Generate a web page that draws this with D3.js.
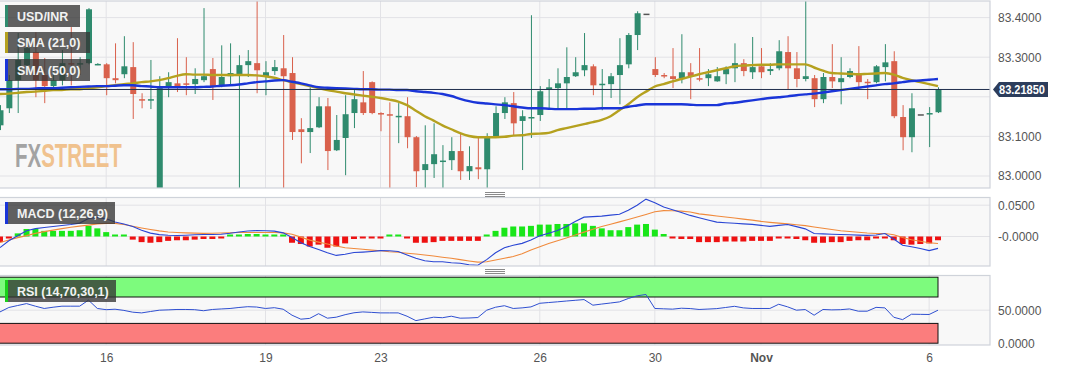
<!DOCTYPE html>
<html>
<head>
<meta charset="utf-8">
<script src="https://cdn.jsdelivr.net/npm/d3@7"></script>
<style>
  body { margin: 0; background: #fff; }
  svg { display: block; font-family: "Liberation Sans", Arial, sans-serif; }
</style>
</head>
<body>
<div id="d3-container"></div>
<script>
// 4h candles, USD/INR
const open = [
83.128,83.171,83.242,83.280,83.313,83.255,83.227,83.242,83.285,83.282,
83.285,83.282,83.282,83.247,83.257,83.275,83.194,83.192,82.952,83.227,
83.234,83.234,83.232,83.242,83.270,83.227,83.252,83.257,83.280,83.285,
83.250,83.265,83.272,83.260,83.118,83.111,83.123,83.176,83.065,83.096,
83.159,83.186,83.237,83.159,83.156,83.150,83.151,83.098,83.015,83.030,
83.036,83.040,83.063,83.012,83.022,83.017,83.098,83.159,83.184,83.139,
83.146,83.154,83.219,83.222,83.234,83.252,83.267,83.277,83.231,83.232,
83.255,83.282,83.356,83.410,83.270,83.255,83.252,83.247,83.262,83.247,
83.247,83.239,83.257,83.272,83.285,83.262,83.277,83.265,83.272,83.313,
83.272,83.245,83.247,83.194,83.250,83.237,83.250,83.260,83.238,83.237,
83.275,83.290,83.149,83.098,83.156,83.157,83.161];
const high = [
83.179,83.255,83.361,83.351,83.363,83.298,83.272,83.318,83.376,83.300,
83.424,83.285,83.285,83.335,83.353,83.338,83.209,83.293,83.252,83.262,
83.348,83.300,83.272,83.424,83.298,83.330,83.335,83.305,83.318,83.457,
83.290,83.293,83.356,83.300,83.146,83.224,83.199,83.197,83.154,83.204,
83.217,83.265,83.239,83.161,83.186,83.184,83.199,83.101,83.128,83.133,
83.078,83.098,83.108,83.075,83.098,83.108,83.176,83.199,83.212,83.166,
83.406,83.227,83.245,83.272,83.325,83.300,83.361,83.282,83.270,83.260,
83.348,83.361,83.416,83.410,83.300,83.260,83.323,83.358,83.285,83.323,
83.270,83.275,83.277,83.335,83.295,83.351,83.323,83.285,83.343,83.353,
83.313,83.452,83.255,83.260,83.333,83.300,83.272,83.328,83.245,83.280,
83.333,83.315,83.179,83.209,83.156,83.174,83.224];
const low = [
83.116,83.159,83.159,83.267,83.199,83.184,83.217,83.229,83.229,83.255,
83.282,83.280,83.204,83.234,83.247,83.144,83.171,83.169,82.947,83.199,
83.212,83.204,83.207,83.237,83.192,83.224,83.229,82.960,83.250,83.209,
83.204,83.255,82.960,83.091,83.032,83.058,83.121,83.015,83.063,83.002,
83.121,83.154,83.156,83.113,82.960,83.083,83.070,82.972,82.952,82.995,
82.960,83.015,82.990,82.990,82.992,82.952,83.096,83.144,83.103,83.015,
83.096,83.139,83.171,83.171,83.169,83.250,83.252,83.204,83.166,83.197,
83.181,83.272,83.318,83.410,83.250,83.247,83.222,83.234,83.194,83.239,
83.227,83.238,83.232,83.237,83.252,83.245,83.247,83.255,83.267,83.219,
83.224,83.239,83.174,83.184,83.222,83.181,83.247,83.222,83.194,83.234,
83.239,83.146,83.065,83.060,83.156,83.073,83.159];
const close = [
83.166,83.242,83.293,83.323,83.242,83.227,83.242,83.285,83.282,83.285,
83.421,83.283,83.247,83.242,83.277,83.207,83.192,83.194,83.222,83.237,
83.227,83.232,83.245,83.252,83.227,83.250,83.260,83.280,83.290,83.267,
83.262,83.275,83.252,83.111,83.111,83.121,83.176,83.063,83.091,83.156,
83.194,83.159,83.159,83.156,83.154,83.152,83.098,83.012,83.030,83.055,
83.039,83.063,83.012,83.025,83.017,83.096,83.159,83.186,83.133,83.151,
83.149,83.214,83.224,83.234,83.250,83.262,83.280,83.229,83.233,83.252,
83.280,83.356,83.411,83.410,83.255,83.253,83.245,83.262,83.252,83.245,
83.257,83.252,83.270,83.285,83.265,83.275,83.262,83.270,83.315,83.272,
83.245,83.252,83.194,83.250,83.239,83.247,83.265,83.237,83.236,83.277,
83.287,83.151,83.098,83.171,83.156,83.159,83.2185];

const sma21 = [
83.207,83.208,83.210,83.212,83.213,83.215,83.217,83.217,83.219,83.219,
83.222,83.224,83.227,83.229,83.232,83.234,83.237,83.239,83.242,83.247,
83.253,83.257,83.256,83.256,83.255,83.255,83.255,83.255,83.255,83.254,
83.252,83.248,83.242,83.237,83.232,83.227,83.222,83.217,83.213,83.209,
83.206,83.203,83.200,83.197,83.193,83.188,83.179,83.165,83.151,83.140,
83.128,83.118,83.108,83.101,83.098,83.098,83.098,83.099,83.102,83.103,
83.106,83.107,83.109,83.116,83.121,83.126,83.131,83.136,83.142,83.151,
83.166,83.181,83.199,83.213,83.226,83.232,83.239,83.245,83.251,83.257,
83.262,83.267,83.272,83.277,83.279,83.280,83.281,83.281,83.282,83.282,
83.282,83.282,83.274,83.266,83.260,83.259,83.258,83.257,83.258,83.259,
83.260,83.256,83.248,83.242,83.237,83.232,83.227];
const sma50 = [
83.219,83.219,83.220,83.220,83.221,83.222,83.222,83.223,83.224,83.225,
83.226,83.227,83.227,83.228,83.229,83.229,83.227,83.226,83.224,83.224,
83.224,83.224,83.224,83.225,83.226,83.228,83.229,83.231,83.234,83.237,
83.239,83.241,83.242,83.238,83.234,83.229,83.224,83.223,83.222,83.221,
83.220,83.219,83.219,83.218,83.218,83.217,83.217,83.214,83.212,83.210,
83.207,83.202,83.195,83.189,83.185,83.183,83.181,83.179,83.176,83.173,
83.171,83.171,83.170,83.169,83.169,83.169,83.170,83.170,83.171,83.171,
83.171,83.175,83.178,83.181,83.181,83.181,83.181,83.181,83.180,83.179,
83.179,83.179,83.183,83.185,83.188,83.191,83.194,83.197,83.199,83.201,
83.204,83.206,83.208,83.211,83.214,83.217,83.220,83.223,83.226,83.229,
83.232,83.234,83.237,83.240,83.241,83.243,83.245];

// MACD (12,26,9)
const macd = [
-0.0177,-0.0067,0.0013,0.0092,0.0126,0.0143,0.0159,0.0175,0.0191,0.0214,
0.0288,0.0306,0.0282,0.0233,0.0201,0.0160,0.0101,0.0054,0.0030,0.0019,
0.0016,0.0021,0.0028,0.0032,0.0032,0.0036,0.0052,0.0072,0.0088,0.0095,
0.0091,0.0086,0.0058,-0.0017,-0.0101,-0.0160,-0.0208,-0.0259,-0.0302,-0.0283,
-0.0256,-0.0249,-0.0239,-0.0226,-0.0227,-0.0240,-0.0295,-0.0349,-0.0388,-0.0403,
-0.0403,-0.0419,-0.0427,-0.0451,-0.0459,-0.0370,-0.0260,-0.0180,-0.0140,-0.0110,
-0.0055,0.0010,0.0052,0.0097,0.0160,0.0240,0.0309,0.0318,0.0326,0.0342,
0.0355,0.0420,0.0500,0.0597,0.0540,0.0470,0.0428,0.0383,0.0337,0.0300,
0.0264,0.0230,0.0219,0.0211,0.0202,0.0194,0.0178,0.0161,0.0178,0.0191,
0.0158,0.0122,0.0048,0.0042,0.0036,0.0031,0.0027,0.0022,0.0018,0.0025,
0.0047,-0.0040,-0.0140,-0.0165,-0.0191,-0.0226,-0.0190];
const signal = [
-0.0097,-0.0057,-0.0018,0.0014,0.0050,0.0078,0.0102,0.0126,0.0148,0.0165,
0.0182,0.0201,0.0209,0.0210,0.0192,0.0163,0.0137,0.0113,0.0090,0.0071,
0.0063,0.0058,0.0054,0.0050,0.0051,0.0056,0.0059,0.0063,0.0065,0.0065,
0.0065,0.0063,0.0058,0.0037,-0.0010,-0.0058,-0.0090,-0.0121,-0.0153,-0.0180,
-0.0192,-0.0204,-0.0217,-0.0228,-0.0243,-0.0252,-0.0267,-0.0280,-0.0296,-0.0311,
-0.0331,-0.0348,-0.0370,-0.0391,-0.0410,-0.0404,-0.0375,-0.0348,-0.0320,-0.0275,
-0.0215,-0.0165,-0.0113,-0.0068,-0.0023,0.0023,0.0070,0.0117,0.0160,0.0197,
0.0234,0.0271,0.0311,0.0352,0.0395,0.0414,0.0411,0.0406,0.0391,0.0361,
0.0345,0.0328,0.0311,0.0295,0.0278,0.0262,0.0242,0.0226,0.0213,0.0201,
0.0188,0.0174,0.0153,0.0132,0.0111,0.0093,0.0081,0.0068,0.0056,0.0048,
0.0048,0.0028,-0.0016,-0.0053,-0.0077,-0.0101,-0.0113];
const hist = [
-0.009,-0.001,0.005,0.012,0.012,0.009,0.009,0.009,0.009,0.010,
0.017,0.013,0.007,0.002,0.001,-0.005,-0.009,-0.010,-0.009,-0.007,
-0.006,-0.006,-0.005,-0.004,-0.004,-0.002,0.000,0.002,0.004,0.004,
0.002,0.002,0.001,-0.010,-0.012,-0.016,-0.013,-0.018,-0.016,-0.011,
-0.004,-0.003,-0.002,-0.001,0.000,0.001,-0.002,-0.010,-0.010,-0.009,
-0.007,-0.007,-0.007,-0.007,-0.007,0.000,0.009,0.014,0.016,0.016,
0.017,0.019,0.019,0.020,0.020,0.021,0.021,0.017,0.013,0.010,
0.010,0.015,0.019,0.020,0.011,0.004,-0.001,-0.004,-0.004,-0.009,
-0.009,-0.009,-0.008,-0.008,-0.008,-0.007,-0.007,-0.007,-0.003,-0.003,
-0.004,-0.006,-0.010,-0.010,-0.009,-0.009,-0.007,-0.006,-0.006,-0.002,
-0.001,-0.006,-0.012,-0.013,-0.012,-0.011,-0.006];

// RSI (14,70,30,1)
const rsi = [
47.4,54.1,57.1,60.0,56.1,52.6,54.5,56.1,56.1,56.1,
65.2,52.6,50.8,51.5,49.7,47.0,45.9,48.0,50.0,50.5,
51.1,51.1,50.8,49.2,51.1,51.9,52.6,54.1,55.3,54.8,
52.6,53.8,51.5,42.4,36.4,37.6,44.7,37.9,39.4,43.2,
46.1,47.4,46.7,45.9,45.9,45.9,40.9,34.2,36.8,39.4,
38.6,40.9,37.9,38.2,38.9,50.0,54.5,56.8,52.6,53.5,
55.0,60.5,61.6,62.7,63.9,65.0,66.1,57.6,59.3,60.9,
62.6,67.7,71.8,73.8,52.6,52.1,51.6,53.0,52.5,51.1,
51.7,52.4,54.1,55.9,53.5,52.6,52.6,52.6,59.0,55.1,
50.0,51.0,42.4,51.1,50.5,50.8,51.9,48.5,48.5,54.3,
53.5,39.3,35.7,43.9,43.7,43.5,50.0];

// x axis: candle index of each day label
const tickPos = [12, 30, 43, 61, 74, 86, 105];
const tickLabels = ["16", "19", "23", "26", "30", "Nov", "6"];
const priceTicks = [83.0, 83.1, 83.2, 83.3, 83.4];
const macdTicks = [0, 0.05];
const rsiTicks = [0, 50];
const lastPrice = 83.2185;

const W = 1067, H = 370;
const mainP = {id: 'clipMain', top: 1, bottom: 188, right: 990};
const macdP = {id: 'clipMacd', top: 197.5, bottom: 266, right: 990};
const rsiP = {id: 'clipRsi', top: 275.5, bottom: 345, right: 990};

const green = "#2f8b6e", red = "#d9614c";

let svg = d3.select('#d3-container')
  .append('svg')
  .attr('width', W)
  .attr('height', H);

const n = close.length - 1;
const x = d3.scaleLinear().domain([0, n]).range([0, 938]);
const y = d3.scaleLinear().domain([83.0, 83.4]).range([176, 17.6]);
const yMacd = d3.scaleLinear().domain([0, 0.05]).range([236.5, 205.2]);
const yRsi = d3.scaleLinear().domain([0, 100]).range([343.2, 277.2]);

const defs = svg.append('defs');
[mainP, macdP, rsiP].forEach(p => {
  defs.append('clipPath').attr('id', p.id)
    .append('rect').attr('x', 0).attr('y', p.top).attr('width', p.right).attr('height', p.bottom - p.top);
});

// panel background + grid
function panel(p, yScale, yTicks) {
  svg.append('rect')
    .attr('x', -1).attr('y', p.top)
    .attr('width', p.right + 1).attr('height', p.bottom - p.top)
    .attr('fill', '#f8f8f8');
  let g = svg.append('g').attr('clip-path', 'url(#' + p.id + ')');
  g.selectAll('.vg').data(tickPos).join('line')
    .attr('x1', d => x(d)).attr('x2', d => x(d))
    .attr('y1', p.top).attr('y2', p.bottom)
    .attr('stroke', '#e2e2e6').attr('stroke-width', 1);
  g.selectAll('.hg').data(yTicks).join('line')
    .attr('x1', 0).attr('x2', p.right)
    .attr('y1', d => yScale(d)).attr('y2', d => yScale(d))
    .attr('stroke', '#e2e2e6').attr('stroke-width', 1);
  return g;
}

const gMain = panel(mainP, y, priceTicks);

// watermark, squeezed horizontally
const wm = svg.append('g').attr('transform', 'translate(15,167) scale(0.62,1)')
  .append('text')
  .attr('font-size', 33).attr('font-weight', 'bold');
wm.append('tspan').attr('fill', '#a3a3a3').text('FX');
wm.append('tspan').attr('fill', '#f0c28e').text('STREET');

// candles
const idx = d3.range(close.length);
const colorOf = i => close[i] > open[i] ? green : (close[i] < open[i] ? red : '#555');

gMain.selectAll('.wick').data(idx).join('line')
  .attr('x1', i => x(i) + 0.5).attr('x2', i => x(i) + 0.5)
  .attr('y1', i => y(high[i])).attr('y2', i => y(low[i]))
  .attr('stroke', colorOf).attr('stroke-width', 1);

gMain.selectAll('.body').data(idx).join('rect')
  .attr('x', i => x(i) - 2.5)
  .attr('width', 6)
  .attr('y', i => y(Math.max(open[i], close[i])))
  .attr('height', i => Math.max(1.5, Math.abs(y(open[i]) - y(close[i]))))
  .attr('fill', colorOf);

// moving averages
const line = arr => d3.line().x((d, i) => x(i)).y(d => y(d)).curve(d3.curveMonotoneX)(arr);
gMain.append('path').attr('d', line(sma21))
  .attr('fill', 'none').attr('stroke', '#b5a11f').attr('stroke-width', 2.4);
gMain.append('path').attr('d', line(sma50))
  .attr('fill', 'none').attr('stroke', '#1a35d8').attr('stroke-width', 2.4);

// last price line
gMain.append('line')
  .attr('x1', 0).attr('x2', mainP.right)
  .attr('y1', y(lastPrice)).attr('y2', y(lastPrice))
  .attr('stroke', '#1f2e4d').attr('stroke-width', 1);

// MACD panel
const gMacd = panel(macdP, yMacd, macdTicks);
gMacd.selectAll('.hbar').data(idx).join('rect')
  .attr('x', i => x(i) - 3)
  .attr('width', 6)
  .attr('y', i => hist[i] >= 0 ? Math.min(yMacd(hist[i]), yMacd(0) - 2) : yMacd(0))
  .attr('height', i => Math.max(2, Math.abs(yMacd(hist[i]) - yMacd(0))))
  .attr('fill', i => hist[i] >= 0 ? '#19e619' : '#ee1111');

const lineM = arr => d3.line().x((d, i) => x(i)).y(d => yMacd(d))(arr);
gMacd.append('path').attr('d', lineM(signal))
  .attr('fill', 'none').attr('stroke', '#f08a3c').attr('stroke-width', 1.1);
gMacd.append('path').attr('d', lineM(macd))
  .attr('fill', 'none').attr('stroke', '#2a46d4').attr('stroke-width', 1.1);

// RSI panel
const gRsi = panel(rsiP, yRsi, [50]);
gRsi.append('rect')
  .attr('x', -1).attr('y', yRsi(100))
  .attr('width', x(n) + 1).attr('height', yRsi(70) - yRsi(100))
  .attr('fill', '#7dfb7d').attr('stroke', '#111').attr('stroke-width', 1);
gRsi.append('rect')
  .attr('x', -1).attr('y', yRsi(30))
  .attr('width', x(n) + 1).attr('height', yRsi(0) - yRsi(30))
  .attr('fill', '#fb7d7d').attr('stroke', '#111').attr('stroke-width', 1);
gRsi.append('path')
  .attr('d', d3.line().x((d, i) => x(i)).y(d => yRsi(d))(rsi))
  .attr('fill', 'none').attr('stroke', '#2f4fd0').attr('stroke-width', 1);

// panel borders
[mainP, macdP, rsiP].forEach(p => {
  svg.append('rect')
    .attr('x', -1).attr('y', p.top)
    .attr('width', p.right + 1).attr('height', p.bottom - p.top)
    .attr('fill', 'none').attr('stroke', '#cfd3da').attr('stroke-width', 1.2);
});

// right axes
function rightAxis(scale, ticks, fmt) {
  let g = svg.append('g')
    .attr('transform', 'translate(990,0)')
    .call(d3.axisRight(scale).tickValues(ticks).tickFormat(fmt).tickSize(0).tickPadding(8));
  g.select('.domain').remove();
  g.selectAll('text').attr('font-size', 12).attr('fill', '#555')
    .attr('font-family', '"Liberation Sans", Arial, sans-serif');
}
rightAxis(y, priceTicks.filter(d => d !== 83.2), d3.format('.4f'));
rightAxis(yMacd, macdTicks, d => d === 0 ? '-0.0000' : d3.format('.4f')(d));
rightAxis(yRsi, rsiTicks, d3.format('.4f'));

// current price tag (sits over the 83.2000 label)
const ty = y(lastPrice);
svg.append('path')
  .attr('d', `M993,${ty} L999,${ty - 7.5} L1048,${ty - 7.5} L1048,${ty + 7.5} L999,${ty + 7.5} Z`)
  .attr('fill', '#2c3d5c');
svg.append('text')
  .attr('x', 999).attr('y', ty + 4.3)
  .attr('font-size', 12).attr('font-weight', 'bold').attr('fill', '#fff')
  .attr('textLength', 46).attr('lengthAdjust', 'spacingAndGlyphs')
  .text(d3.format('.5f')(lastPrice));

// bottom axis
let xa = svg.append('g')
  .attr('transform', 'translate(0,349)')
  .call(d3.axisBottom(x).tickValues(tickPos).tickFormat((d, i) => tickLabels[i]).tickSize(0).tickPadding(4));
xa.select('.domain').remove();
xa.selectAll('text').attr('font-size', 12).attr('fill', '#555')
  .attr('font-family', '"Liberation Sans", Arial, sans-serif')
  .attr('font-weight', (d, i) => tickLabels[i] === 'Nov' ? 'bold' : 'normal');

// legend tags
function legend(x0, y0, w, h, stripe, label) {
  svg.append('rect').attr('x', x0).attr('y', y0).attr('width', w).attr('height', h)
    .attr('fill', 'rgba(52,52,52,0.78)');
  svg.append('rect').attr('x', x0).attr('y', y0).attr('width', 3).attr('height', h)
    .attr('fill', stripe);
  svg.append('text').attr('x', x0 + 12).attr('y', y0 + h / 2 + 4.5)
    .attr('font-size', 12.5).attr('font-weight', 'bold').attr('fill', '#f2f2f2')
    .text(label);
}
legend(5, 5, 75, 22, green, 'USD/INR');
legend(5, 32, 85, 21, '#b5a11f', 'SMA (21,0)');
legend(5, 59, 85, 22, '#1a35d8', 'SMA (50,0)');
legend(5, 202, 110, 22, '#1a35d8', 'MACD (12,26,9)');
legend(5, 280, 111, 22, '#19d019', 'RSI (14,70,30,1)');

// panel resize handles
[192, 269].forEach(hy => {
  svg.selectAll(null).data([0, 2, 4]).join('line')
    .attr('x1', 485).attr('x2', 505)
    .attr('y1', d => hy + d + 0.5).attr('y2', d => hy + d + 0.5)
    .attr('stroke', '#8a8a8a').attr('stroke-width', 1);
});
</script>
</body>
</html>
